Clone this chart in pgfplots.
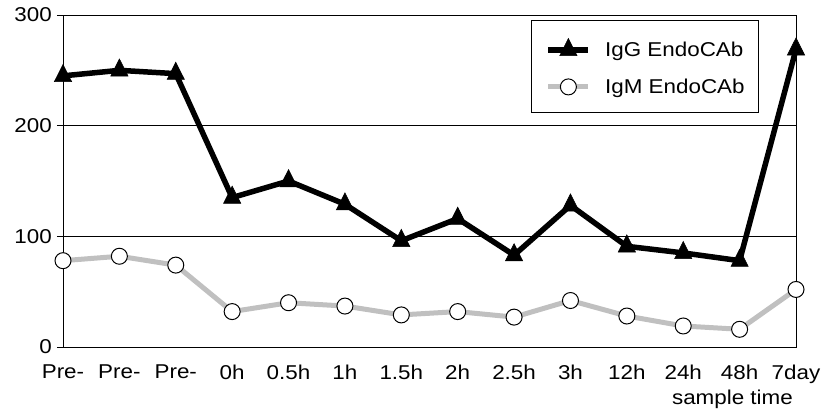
\documentclass[border=0pt]{standalone}
\usepackage{fontspec}
\setmainfont[FakeStretch=1.12]{Liberation Sans}
\usepackage{pgfplots}
\pgfplotsset{compat=1.18}

\definecolor{igmgray}{RGB}{192,192,192}

\begin{document}
\begin{tikzpicture}
\begin{axis}[
  at={(0pt,0pt)}, anchor=south west,
  scale only axis,
  width=733pt, height=332pt,
  xmin=0, xmax=13,
  ymin=0, ymax=300,
  xtick={0,...,13},
  xticklabels={Pre-,Pre-,Pre-,0h,0.5h,1h,1.5h,2h,2.5h,3h,12h,24h,48h,7day},
  ytick={0,100,200,300},
  ytick pos=left,
  tick align=outside,
  major tick length=6pt,
  x tick style={draw=none},
  ymajorgrids,
  grid style={black, line width=0.8pt},
  axis line style={black, line width=0.8pt},
  tick style={black, line width=0.8pt},
  /pgf/number format/assume math mode=true,
  tick label style={font=\fontsize{20}{23}\selectfont},
  x tick label style={inner sep=0pt, anchor=north, yshift=-12pt},
  y tick label style={inner sep=0pt, xshift=-5pt},
  xlabel={sample time},
  xlabel style={font=\fontsize{20}{23}\selectfont, at={(axis description cs:1,0)},
    anchor=base east, inner sep=0pt, xshift=-3pt, yshift=-57pt},
  clip=false,
  legend style={at={(axis description cs:1,1)}, anchor=north east,
    xshift=-37pt, yshift=-5pt, draw=black, line width=0.8pt,
    font=\fontsize{20}{23}\selectfont,
    inner xsep=14pt, inner ysep=18pt, row sep=21pt,
    nodes={inner sep=0pt, anchor=west}},
  legend cell align=left,
  legend image code/.code={%
    \draw[mark repeat=2, mark phase=2, #1] plot coordinates {(0pt,0pt) (20pt,0pt) (40pt,0pt)};
    \path (54pt,0pt);},
]
% IgG series: thick black line with filled triangles
\addplot[black, line width=5.5pt, mark=triangle*,
  mark options={solid, fill=black, draw=black, line width=0.5pt, scale=1, yscale=1.15},
  mark size=10pt]
  coordinates {(0,245) (1,250) (2,247) (3,135) (4,150) (5,129) (6,96)
               (7,116) (8,83) (9,128) (10,91) (11,85) (12,78) (13,269)};
\addlegendentry{IgG EndoCAb}
% IgM series: light grey line with open circles
\addplot[igmgray, line width=5pt, mark=*,
  mark options={solid, fill=white, draw=black, line width=1pt},
  mark size=8pt]
  coordinates {(0,78) (1,82) (2,74) (3,32) (4,40) (5,37) (6,29)
               (7,32) (8,27) (9,42) (10,28) (11,19) (12,16) (13,52)};
\addlegendentry{IgM EndoCAb}
\end{axis}
\pgfresetboundingbox
\path[use as bounding box] (-63pt,-63pt) rectangle (759pt,347pt);
\end{tikzpicture}
\end{document}
